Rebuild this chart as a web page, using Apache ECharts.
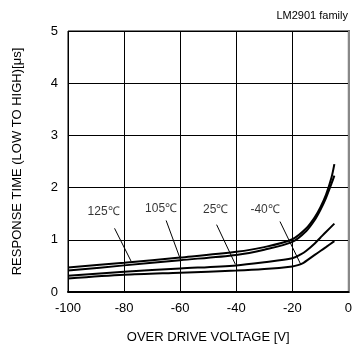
<!DOCTYPE html>
<html>
<head>
<meta charset="utf-8">
<script src="https://cdn.jsdelivr.net/npm/echarts@6/dist/echarts.min.js"></script>
<style>
  html, body { margin: 0; padding: 0; background: #fff; }
  #chart { width: 355px; height: 349px; }
</style>
</head>
<body>
<div id="chart"></div>
<script>
// over drive voltage [V] -> response time [us]
const xs125 = [-100, -80, -60, -40, -30, -20, -15, -12, -10, -8, -6, -5]
const t125 = [0.47, 0.56, 0.66, 0.77, 0.86, 1.01, 1.22, 1.43, 1.62, 1.86, 2.2, 2.45]
const xs105 = [-100, -80, -60, -40, -30, -20, -15, -12, -10, -8, -6, -5]
const t105 = [0.41, 0.51, 0.61, 0.71, 0.81, 0.96, 1.17, 1.38, 1.57, 1.8, 2.08, 2.23]
const xs25 = [-100, -80, -60, -40, -30, -20, -17, -15, -12, -10, -8, -5]
const t25 = [0.31, 0.39, 0.45, 0.51, 0.57, 0.645, 0.72, 0.79, 0.93, 1.04, 1.15, 1.31]
const xsM40 = [-100, -80, -60, -40, -30, -20, -18, -16, -14, -12, -10, -8, -5]
const tM40 = [0.26, 0.33, 0.37, 0.41, 0.44, 0.49, 0.515, 0.56, 0.635, 0.71, 0.785, 0.86, 0.975]

// temperature labels and their leader lines (data coords)
const tempLabels = ['125℃', '105℃', '25℃', '-40℃']
const labelPos = [[-87.3, 1.54], [-66.8, 1.6], [-47.3, 1.58], [-29.7, 1.58]]
const leaderFrom = [[-83.4, 1.22], [-65, 1.37], [-47, 1.29], [-24.4, 1.35]]
const leaderTo = [[-77.5, 0.59], [-59.8, 0.61], [-40.3, 0.53], [-17, 0.53]]

const xTicks = [-100, -80, -60, -40, -20, 0]
const yTicks = [0, 1, 2, 3, 4, 5]

const font = 'Liberation Sans, Arial, sans-serif'

function zip(xs, ys) {
  return xs.map((x, i) => [x, ys[i]])
}

const curves = [zip(xs125, t125), zip(xs105, t105), zip(xs25, t25), zip(xsM40, tM40)]

const chart = echarts.init(document.getElementById('chart'), null, { renderer: 'canvas' })

const series = curves.map((d, i) => ({
  name: tempLabels[i],
  type: 'line',
  data: d,
  smooth: 0.3,
  symbol: 'none',
  lineStyle: { color: '#000', width: 2 },
  z: 3
}))

series.push({
  type: 'scatter',
  data: labelPos.map((p, i) => ({ value: p, name: tempLabels[i] })),
  symbolSize: 0,
  silent: true,
  label: {
    show: true,
    position: 'inside',
    formatter: p => p.name,
    color: '#000',
    fontSize: 12,
    fontFamily: font
  },
  markLine: {
    silent: true,
    symbol: 'none',
    label: { show: false },
    lineStyle: { color: '#000', width: 1, type: 'solid' },
    data: leaderFrom.map((p, i) => [{ coord: p }, { coord: leaderTo[i] }])
  }
})

chart.setOption({
  animation: false,
  backgroundColor: '#fff',
  title: {
    text: 'LM2901 family',
    right: 2,
    top: 5,
    textStyle: { fontSize: 11, fontWeight: 'normal', color: '#000', fontFamily: font }
  },
  grid: {
    left: 68,
    right: 4,
    top: 31,
    bottom: 55,
    show: true,
    borderColor: '#000',
    borderWidth: 1
  },
  xAxis: {
    type: 'value',
    min: xTicks[0],
    max: xTicks[xTicks.length - 1],
    interval: 20,
    name: 'OVER DRIVE VOLTAGE [V]',
    nameLocation: 'middle',
    nameGap: 39,
    nameTextStyle: { fontSize: 13, color: '#000', fontFamily: font },
    axisLine: { show: true, lineStyle: { color: '#000', width: 2 } },
    axisTick: { show: false },
    axisLabel: { fontSize: 13, color: '#000', margin: 10, fontFamily: font },
    splitLine: { show: true, lineStyle: { color: '#000', width: 1 } }
  },
  yAxis: [{
    type: 'value',
    min: yTicks[0],
    max: yTicks[yTicks.length - 1],
    interval: 1,
    name: 'RESPONSE TIME (LOW TO HIGH)[μs]',
    nameLocation: 'middle',
    nameGap: 44,
    nameTextStyle: { fontSize: 13, color: '#000', fontFamily: font },
    axisLine: { show: true, lineStyle: { color: '#000', width: 2 } },
    axisTick: { show: false },
    axisLabel: { fontSize: 13, color: '#000', margin: 10, fontFamily: font },
    splitLine: { show: true, lineStyle: { color: '#000', width: 1 } }
  }, {
    type: 'value',
    position: 'right',
    min: 0,
    max: 5,
    axisLine: { show: true, lineStyle: { color: '#888', width: 2 } },
    axisTick: { show: false },
    axisLabel: { show: false },
    splitLine: { show: false }
  }],
  series: series
})
</script>
</body>
</html>
